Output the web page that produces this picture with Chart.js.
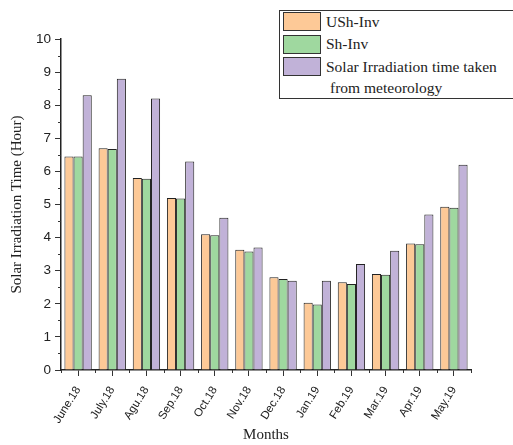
<!DOCTYPE html>
<html lang="en">
<head>
    <meta charset="UTF-8">
    <title>Solar Irradiation Time</title>
    <script src="https://cdn.jsdelivr.net/npm/chart.js@4.4.0/dist/chart.umd.min.js"></script>
    <style>
        body { margin: 0; background: #fff; }
        .wrap { position: relative; width: 513px; height: 445px; overflow: hidden; }
        #legend {
            position: absolute; left: 279px; top: 10px; width: 250px; height: 87px;
            border: 1px solid #333; background: #fff;
            font-family: "Liberation Serif", "Times New Roman", serif; font-size: 15.5px; color: #222;
        }
        .item { position: absolute; left: 3px; height: 19px; display: flex; align-items: center; }
        .swatch { width: 36px; height: 17px; border: 1px solid #333; margin-right: 5px; }
        .sub { position: absolute; left: 50px; top: 68px; }
    </style>
</head>
<body>
<div class="wrap">
    <canvas id="chart" width="513" height="445"></canvas>
    <div id="legend"></div>
</div>
<script>
    // data
    const months = ['June.18', 'July.18', 'Agu.18', 'Sep.18', 'Oct.18', 'Nov.18',
                    'Dec.18', 'Jan.19', 'Feb.19', 'Mar.19', 'Apr.19', 'May.19'];
    const ushInv = [6.45, 6.7, 5.8, 5.2, 4.1, 3.63, 2.8, 2.03, 2.65, 2.9, 3.82, 4.93];
    const shInv = [6.45, 6.68, 5.78, 5.18, 4.07, 3.58, 2.75, 1.98, 2.6, 2.88, 3.8, 4.9];
    const meteo = [8.3, 8.8, 8.2, 6.3, 4.6, 3.7, 2.7, 2.7, 3.2, 3.6, 4.7, 6.2];
    const seriesNames = ['USh-Inv', 'Sh-Inv', 'Solar Irradiation time taken'];
    const seriesColors = ['#FDC997', '#9FD89F', '#C1B2D8'];
    const yTicks = [0, 1, 2, 3, 4, 5, 6, 7, 8, 9, 10];

    // html legend
    const legend = document.getElementById('legend');
    seriesNames.forEach((name, i) => {
        const row = document.createElement('div');
        row.className = 'item';
        row.style.top = (1 + i * 22.5) + 'px';
        row.innerHTML = '<span class="swatch" style="background:' + seriesColors[i] + '"></span>' + name;
        legend.appendChild(row);
    });
    const sub = document.createElement('div');
    sub.className = 'sub';
    sub.textContent = 'from meteorology';
    legend.appendChild(sub);

    // minor ticks on both axes
    const minorTicks = {
        id: 'minorTicks',
        afterDraw(chart) {
            const ctx = chart.ctx;
            const x = chart.scales.x, y = chart.scales.y;
            ctx.save();
            ctx.strokeStyle = '#333';
            ctx.lineWidth = 1;
            ctx.beginPath();
            for (let v = 0.5; v < 10; v += 1) {
                const py = Math.round(y.getPixelForValue(v)) + 0.5;
                ctx.moveTo(x.left - 3, py);
                ctx.lineTo(x.left, py);
            }
            for (let i = 0; i <= months.length; i++) {
                const px = Math.round(x.getPixelForValue(i - 0.5)) + 0.5;
                ctx.moveTo(px, y.bottom);
                ctx.lineTo(px, y.bottom + 3);
            }
            ctx.stroke();
            ctx.restore();
        }
    };

    const makeSet = (label, data, i) => ({
        label: label, data: data,
        backgroundColor: seriesColors[i],
        borderColor: '#222', borderWidth: 1,
        categoryPercentage: 0.8, barPercentage: 1.0
    });

    new Chart(document.getElementById('chart'), {
        type: 'bar',
        data: {
            labels: months,
            datasets: [
                makeSet(seriesNames[0], ushInv, 0),
                makeSet(seriesNames[1], shInv, 1),
                makeSet(seriesNames[2], meteo, 2)
            ]
        },
        options: {
            responsive: false,
            animation: false,
            layout: { padding: { left: 8, right: 42, top: 39, bottom: 1 } },
            plugins: { legend: { display: false }, tooltip: { enabled: false } },
            scales: {
                x: {
                    offset: true,
                    afterFit: s => { s.height = 74; },
                    grid: { offset: false, drawOnChartArea: false, tickLength: 6, color: '#333', tickWidth: 1 },
                    border: { color: '#222', width: 1.5 },
                    ticks: {
                        color: '#222', minRotation: 58, maxRotation: 58, padding: 8,
                        font: { family: 'Liberation Sans, Arial', size: 11.5 }
                    },
                    title: {
                        display: true, text: 'Months', color: '#222', padding: { top: 0, bottom: 0 },
                        font: { family: 'Liberation Serif, Times New Roman', size: 15 }
                    }
                },
                y: {
                    min: 0, max: 10,
                    afterBuildTicks: s => { s.ticks = yTicks.map(v => ({ value: v })); },
                    grid: { drawOnChartArea: false, tickLength: 6, color: '#333' },
                    border: { color: '#222', width: 1.5 },
                    ticks: {
                        color: '#222', padding: 4,
                        font: { family: 'Liberation Sans, Arial', size: 13.5 }
                    },
                    title: {
                        display: true, text: 'Solar Irradiation Time (Hour)', color: '#222', padding: { top: 0, bottom: 6 },
                        font: { family: 'Liberation Serif, Times New Roman', size: 15 }
                    }
                }
            }
        },
        plugins: [minorTicks]
    });
</script>
</body>
</html>
